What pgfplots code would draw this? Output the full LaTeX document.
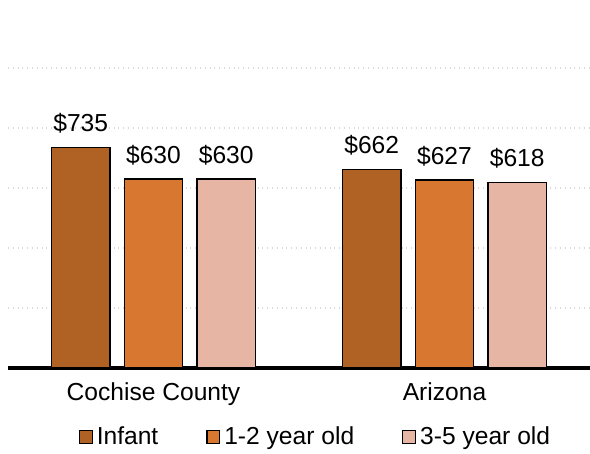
\documentclass[border=0pt]{standalone}
\usepackage{pgfplots}
\pgfplotsset{compat=1.18}
\usepackage{fontspec}
\setmainfont{Liberation Sans}
\definecolor{cInf}{HTML}{B06224}
\definecolor{cOne}{HTML}{D87730}
\definecolor{cThree}{HTML}{E6B5A3}
\definecolor{cGrid}{HTML}{D9D9D9}
\begin{document}
\fontsize{12.3}{14}\selectfont
\begin{tikzpicture}
\useasboundingbox (-4pt,-43pt) rectangle (291pt,184pt);
\begin{axis}[
  at={(0,0)}, anchor=south west,
  scale only axis, width=291pt, height=180pt,
  ybar, ymin=0, ymax=1200, xmin=-0.5, xmax=1.5,
  axis x line*=bottom, axis y line*=left,
  y axis line style={draw=none},
  x axis line style={line width=1.6pt, -},
  xtick={0,1}, xticklabels={Cochise County, Arizona},
  major tick length=0pt,
  xticklabel style={font=\fontsize{12.3}{14}\selectfont, yshift=-3pt},
  ytick={200,400,600,800,1000}, yticklabels={},
  ymajorgrids, grid style={cGrid, dotted, line width=0.6pt},
  /pgf/number format/assume math mode=true,
  nodes near coords={\$\pgfmathprintnumber{\pgfplotspointmeta}},
  every node near coord/.append style={font=\fontsize{12.3}{14}\selectfont, black, anchor=south, yshift=2.5pt},
  bar width=0.2,
  legend columns=3,
  legend style={at={(0.53,-43pt+8.5pt)}, anchor=center, draw=none, fill=none,
    font=\fontsize{12.3}{14}\selectfont,
    /tikz/every even column/.append style={column sep=22pt},
    inner sep=0pt},
  legend image code/.code={\draw[#1, line width=0.6pt] (0pt,-3.2pt) rectangle (6.4pt,3.2pt);},
]
\addplot[fill=cInf, draw=black, line width=0.8pt, bar shift=-0.25] coordinates {(0,735) (1,662)};
\addplot[fill=cOne, draw=black, line width=0.8pt, bar shift=0] coordinates {(0,630) (1,627)};
\addplot[fill=cThree, draw=black, line width=0.8pt, bar shift=0.25] coordinates {(0,630) (1,618)};
\legend{Infant, 1-2 year old, 3-5 year old}
\end{axis}
\end{tikzpicture}
\end{document}
